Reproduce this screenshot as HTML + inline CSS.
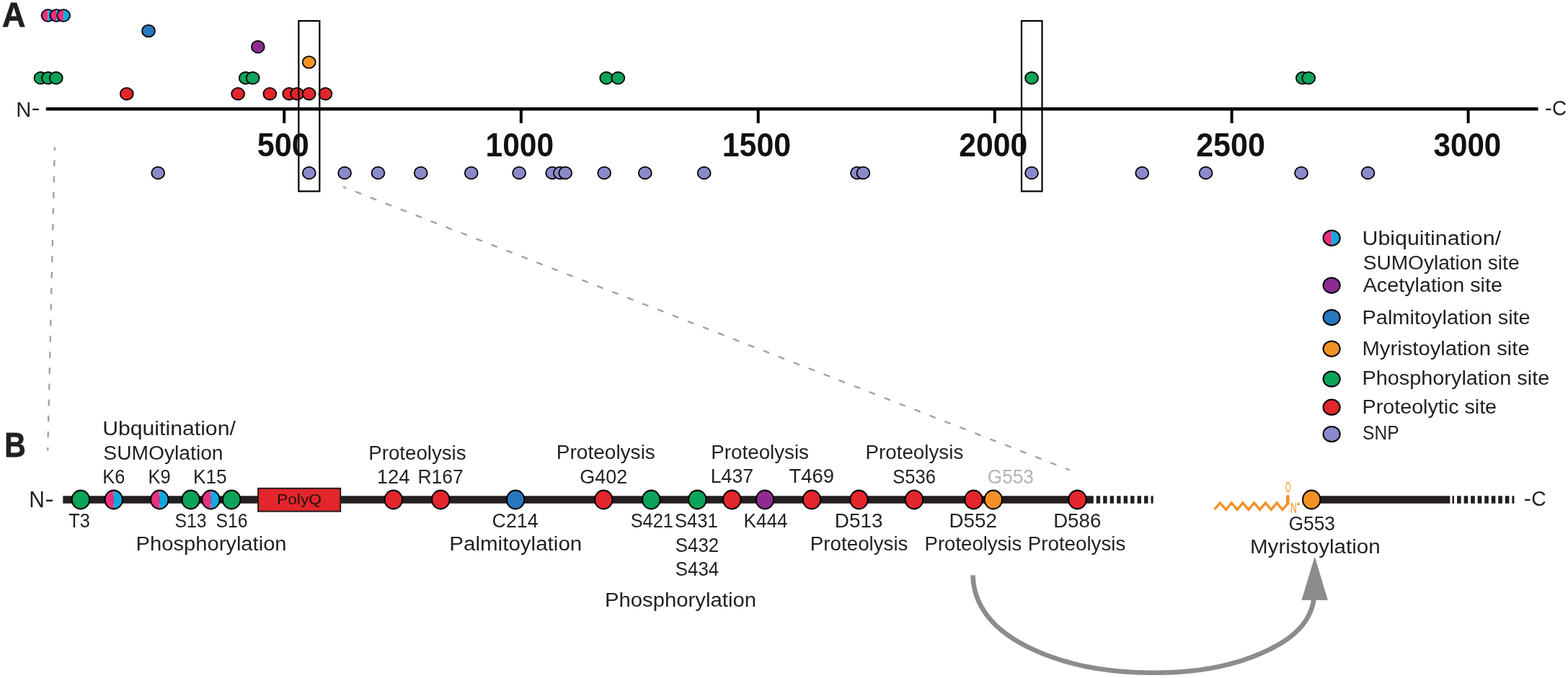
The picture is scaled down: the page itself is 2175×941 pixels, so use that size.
<!DOCTYPE html>
<html><head><meta charset="utf-8"><title>Huntingtin PTM map</title>
<style>html,body{margin:0;padding:0;background:#fff;overflow:hidden;}svg{display:block;}text{font-family:"Liberation Sans", sans-serif;}</style>
</head><body>
<svg width="2175" height="941" viewBox="0 0 2175 941">
<rect width="2175" height="941" fill="#fff"/>
<line x1="63.8" y1="151.2" x2="2133.6" y2="151.2" stroke="#000" stroke-width="4.4"/>
<line x1="394.2" y1="151" x2="394.2" y2="171" stroke="#000" stroke-width="4"/>
<line x1="722.8" y1="151" x2="722.8" y2="171" stroke="#000" stroke-width="4"/>
<line x1="1051.7" y1="151" x2="1051.7" y2="171" stroke="#000" stroke-width="4"/>
<line x1="1379.8" y1="151" x2="1379.8" y2="171" stroke="#000" stroke-width="4"/>
<line x1="1708.6" y1="151" x2="1708.6" y2="171" stroke="#000" stroke-width="4"/>
<line x1="2036.6" y1="151" x2="2036.6" y2="171" stroke="#000" stroke-width="4"/>
<path d="M66.5,13.2 A8.95,8.3 0 0 0 66.5,29.8 Z" fill="#e8307f"/><path d="M66.5,13.2 A8.95,8.3 0 0 1 66.5,29.8 Z" fill="#12a8de"/><ellipse cx="66.5" cy="21.5" rx="8.95" ry="8.3" fill="none" stroke="#000" stroke-width="1.8"/>
<path d="M78.4,13.2 A8.95,8.3 0 0 0 78.4,29.8 Z" fill="#e8307f"/><path d="M78.4,13.2 A8.95,8.3 0 0 1 78.4,29.8 Z" fill="#12a8de"/><ellipse cx="78.4" cy="21.5" rx="8.95" ry="8.3" fill="none" stroke="#000" stroke-width="1.8"/>
<path d="M88.1,13.2 A8.95,8.3 0 0 0 88.1,29.8 Z" fill="#e8307f"/><path d="M88.1,13.2 A8.95,8.3 0 0 1 88.1,29.8 Z" fill="#12a8de"/><ellipse cx="88.1" cy="21.5" rx="8.95" ry="8.3" fill="none" stroke="#000" stroke-width="1.8"/>
<ellipse cx="56.5" cy="108.3" rx="8.95" ry="8.3" fill="#0ca35a" stroke="#000" stroke-width="1.8"/>
<ellipse cx="66.9" cy="108.3" rx="8.95" ry="8.3" fill="#0ca35a" stroke="#000" stroke-width="1.8"/>
<ellipse cx="77.8" cy="108.3" rx="8.95" ry="8.3" fill="#0ca35a" stroke="#000" stroke-width="1.8"/>
<ellipse cx="340.8" cy="108.3" rx="8.95" ry="8.3" fill="#0ca35a" stroke="#000" stroke-width="1.8"/>
<ellipse cx="350.7" cy="108.3" rx="8.95" ry="8.3" fill="#0ca35a" stroke="#000" stroke-width="1.8"/>
<ellipse cx="841.2" cy="108.3" rx="8.95" ry="8.3" fill="#0ca35a" stroke="#000" stroke-width="1.8"/>
<ellipse cx="857.3" cy="108.3" rx="8.95" ry="8.3" fill="#0ca35a" stroke="#000" stroke-width="1.8"/>
<ellipse cx="1431" cy="108.3" rx="8.95" ry="8.3" fill="#0ca35a" stroke="#000" stroke-width="1.8"/>
<ellipse cx="1806.8" cy="108.3" rx="8.95" ry="8.3" fill="#0ca35a" stroke="#000" stroke-width="1.8"/>
<ellipse cx="1815.2" cy="108.3" rx="8.95" ry="8.3" fill="#0ca35a" stroke="#000" stroke-width="1.8"/>
<ellipse cx="175.8" cy="130.2" rx="8.95" ry="8.3" fill="#e3262b" stroke="#000" stroke-width="1.8"/>
<ellipse cx="330.1" cy="130.2" rx="8.95" ry="8.3" fill="#e3262b" stroke="#000" stroke-width="1.8"/>
<ellipse cx="374.3" cy="130.2" rx="8.95" ry="8.3" fill="#e3262b" stroke="#000" stroke-width="1.8"/>
<ellipse cx="401.2" cy="130.2" rx="8.95" ry="8.3" fill="#e3262b" stroke="#000" stroke-width="1.8"/>
<ellipse cx="412.2" cy="130.2" rx="8.95" ry="8.3" fill="#e3262b" stroke="#000" stroke-width="1.8"/>
<ellipse cx="428.7" cy="130.2" rx="8.95" ry="8.3" fill="#e3262b" stroke="#000" stroke-width="1.8"/>
<ellipse cx="451.4" cy="130.2" rx="8.95" ry="8.3" fill="#e3262b" stroke="#000" stroke-width="1.8"/>
<ellipse cx="206.0" cy="42.9" rx="8.95" ry="8.3" fill="#2878c0" stroke="#000" stroke-width="1.8"/>
<ellipse cx="357.8" cy="65.0" rx="8.95" ry="8.3" fill="#8e2b92" stroke="#000" stroke-width="1.8"/>
<ellipse cx="428.7" cy="86.4" rx="8.95" ry="8.3" fill="#f29226" stroke="#000" stroke-width="1.8"/>
<ellipse cx="219.2" cy="240.0" rx="8.95" ry="8.3" fill="#8a8acb" stroke="#000" stroke-width="1.8"/>
<ellipse cx="428.8" cy="240.0" rx="8.95" ry="8.3" fill="#8a8acb" stroke="#000" stroke-width="1.8"/>
<ellipse cx="478.1" cy="240.0" rx="8.95" ry="8.3" fill="#8a8acb" stroke="#000" stroke-width="1.8"/>
<ellipse cx="524.4" cy="240.0" rx="8.95" ry="8.3" fill="#8a8acb" stroke="#000" stroke-width="1.8"/>
<ellipse cx="583.7" cy="240.0" rx="8.95" ry="8.3" fill="#8a8acb" stroke="#000" stroke-width="1.8"/>
<ellipse cx="653.7" cy="240.0" rx="8.95" ry="8.3" fill="#8a8acb" stroke="#000" stroke-width="1.8"/>
<ellipse cx="720.1" cy="240.0" rx="8.95" ry="8.3" fill="#8a8acb" stroke="#000" stroke-width="1.8"/>
<ellipse cx="766.2" cy="240.0" rx="8.95" ry="8.3" fill="#8a8acb" stroke="#000" stroke-width="1.8"/>
<ellipse cx="776.8" cy="240.0" rx="8.95" ry="8.3" fill="#8a8acb" stroke="#000" stroke-width="1.8"/>
<ellipse cx="784.2" cy="240.0" rx="8.95" ry="8.3" fill="#8a8acb" stroke="#000" stroke-width="1.8"/>
<ellipse cx="838.2" cy="240.0" rx="8.95" ry="8.3" fill="#8a8acb" stroke="#000" stroke-width="1.8"/>
<ellipse cx="894.8" cy="240.0" rx="8.95" ry="8.3" fill="#8a8acb" stroke="#000" stroke-width="1.8"/>
<ellipse cx="976.7" cy="240.0" rx="8.95" ry="8.3" fill="#8a8acb" stroke="#000" stroke-width="1.8"/>
<ellipse cx="1189" cy="240.0" rx="8.95" ry="8.3" fill="#8a8acb" stroke="#000" stroke-width="1.8"/>
<ellipse cx="1197.4" cy="240.0" rx="8.95" ry="8.3" fill="#8a8acb" stroke="#000" stroke-width="1.8"/>
<ellipse cx="1431" cy="240.0" rx="8.95" ry="8.3" fill="#8a8acb" stroke="#000" stroke-width="1.8"/>
<ellipse cx="1584.2" cy="240.0" rx="8.95" ry="8.3" fill="#8a8acb" stroke="#000" stroke-width="1.8"/>
<ellipse cx="1672.6" cy="240.0" rx="8.95" ry="8.3" fill="#8a8acb" stroke="#000" stroke-width="1.8"/>
<ellipse cx="1805" cy="240.0" rx="8.95" ry="8.3" fill="#8a8acb" stroke="#000" stroke-width="1.8"/>
<ellipse cx="1897.5" cy="240.0" rx="8.95" ry="8.3" fill="#8a8acb" stroke="#000" stroke-width="1.8"/>
<rect x="414.3" y="29" width="29.0" height="236.5" fill="none" stroke="#000" stroke-width="2.2"/>
<rect x="1417.0" y="29" width="28.5" height="236.5" fill="none" stroke="#000" stroke-width="2.2"/>
<line x1="75.9" y1="203.9" x2="66.2" y2="625.3" stroke="#a3a3a3" stroke-width="2.4" stroke-dasharray="8.6 13.56" stroke-dashoffset="3.8"/>
<line x1="475.7" y1="259.3" x2="1484" y2="652.5" stroke="#a3a3a3" stroke-width="2.4" stroke-dasharray="8.9 13.6" stroke-dashoffset="4.1"/>
<path d="M1847.1,319.7 A11.6,10.6 0 0 0 1847.1,340.90000000000003 Z" fill="#e8307f"/><path d="M1847.1,319.7 A11.6,10.6 0 0 1 1847.1,340.90000000000003 Z" fill="#12a8de"/><ellipse cx="1847.1" cy="330.3" rx="11.6" ry="10.6" fill="none" stroke="#000" stroke-width="2"/>
<ellipse cx="1847.1" cy="396.1" rx="11.6" ry="10.6" fill="#8e2b92" stroke="#000" stroke-width="2"/>
<ellipse cx="1847.1" cy="440.6" rx="11.6" ry="10.6" fill="#2878c0" stroke="#000" stroke-width="2"/>
<ellipse cx="1847.1" cy="484.1" rx="11.6" ry="10.6" fill="#f29226" stroke="#000" stroke-width="2"/>
<ellipse cx="1847.1" cy="526.0" rx="11.6" ry="10.6" fill="#0ca35a" stroke="#000" stroke-width="2"/>
<ellipse cx="1847.1" cy="565.2" rx="11.6" ry="10.6" fill="#e3262b" stroke="#000" stroke-width="2"/>
<ellipse cx="1847.1" cy="602.5" rx="11.6" ry="10.6" fill="#8a8acb" stroke="#000" stroke-width="2"/>
<rect x="87.3" y="688.25" width="1429.5" height="10.5" fill="#231f20"/>
<rect x="1520.70" y="688.25" width="5.4" height="10.5" fill="#231f20"/>
<rect x="1530.18" y="688.25" width="5.4" height="10.5" fill="#231f20"/>
<rect x="1539.66" y="688.25" width="5.4" height="10.5" fill="#231f20"/>
<rect x="1549.14" y="688.25" width="5.4" height="10.5" fill="#231f20"/>
<rect x="1558.62" y="688.25" width="5.4" height="10.5" fill="#231f20"/>
<rect x="1568.10" y="688.25" width="5.4" height="10.5" fill="#231f20"/>
<rect x="1577.58" y="688.25" width="5.4" height="10.5" fill="#231f20"/>
<rect x="1587.06" y="688.25" width="5.4" height="10.5" fill="#231f20"/>
<rect x="1596.54" y="688.25" width="3.1" height="10.5" fill="#231f20"/>
<rect x="358.1" y="677.8" width="114.1" height="31.9" fill="#e3262b" stroke="#231f20" stroke-width="2"/>
<ellipse cx="111.9" cy="693.5" rx="12.2" ry="12.9" fill="#0ca35a" stroke="#000" stroke-width="2.1"/>
<path d="M157.7,680.6 A12.2,12.9 0 0 0 157.7,706.4 Z" fill="#e8307f"/><path d="M157.7,680.6 A12.2,12.9 0 0 1 157.7,706.4 Z" fill="#12a8de"/><ellipse cx="157.7" cy="693.5" rx="12.2" ry="12.9" fill="none" stroke="#000" stroke-width="2.1"/>
<path d="M221.3,680.6 A12.2,12.9 0 0 0 221.3,706.4 Z" fill="#e8307f"/><path d="M221.3,680.6 A12.2,12.9 0 0 1 221.3,706.4 Z" fill="#12a8de"/><ellipse cx="221.3" cy="693.5" rx="12.2" ry="12.9" fill="none" stroke="#000" stroke-width="2.1"/>
<ellipse cx="264.6" cy="693.5" rx="12.2" ry="12.9" fill="#0ca35a" stroke="#000" stroke-width="2.1"/>
<path d="M292.5,680.6 A12.2,12.9 0 0 0 292.5,706.4 Z" fill="#e8307f"/><path d="M292.5,680.6 A12.2,12.9 0 0 1 292.5,706.4 Z" fill="#12a8de"/><ellipse cx="292.5" cy="693.5" rx="12.2" ry="12.9" fill="none" stroke="#000" stroke-width="2.1"/>
<ellipse cx="321.2" cy="693.5" rx="12.2" ry="12.9" fill="#0ca35a" stroke="#000" stroke-width="2.1"/>
<ellipse cx="545.7" cy="693.5" rx="12.2" ry="12.9" fill="#e3262b" stroke="#000" stroke-width="2.1"/>
<ellipse cx="611.3" cy="693.5" rx="12.2" ry="12.9" fill="#e3262b" stroke="#000" stroke-width="2.1"/>
<ellipse cx="715.1" cy="693.5" rx="12.2" ry="12.9" fill="#2878c0" stroke="#000" stroke-width="2.1"/>
<ellipse cx="837.3" cy="693.5" rx="12.2" ry="12.9" fill="#e3262b" stroke="#000" stroke-width="2.1"/>
<ellipse cx="903.3" cy="693.5" rx="12.2" ry="12.9" fill="#0ca35a" stroke="#000" stroke-width="2.1"/>
<ellipse cx="967.3" cy="693.5" rx="12.2" ry="12.9" fill="#0ca35a" stroke="#000" stroke-width="2.1"/>
<ellipse cx="1015.3" cy="693.5" rx="12.2" ry="12.9" fill="#e3262b" stroke="#000" stroke-width="2.1"/>
<ellipse cx="1061.0" cy="693.5" rx="12.2" ry="12.9" fill="#8e2b92" stroke="#000" stroke-width="2.1"/>
<ellipse cx="1126.0" cy="693.5" rx="12.2" ry="12.9" fill="#e3262b" stroke="#000" stroke-width="2.1"/>
<ellipse cx="1191.5" cy="693.5" rx="12.2" ry="12.9" fill="#e3262b" stroke="#000" stroke-width="2.1"/>
<ellipse cx="1268.0" cy="693.5" rx="12.2" ry="12.9" fill="#e3262b" stroke="#000" stroke-width="2.1"/>
<ellipse cx="1350.5" cy="693.5" rx="12.2" ry="12.9" fill="#e3262b" stroke="#000" stroke-width="2.1"/>
<ellipse cx="1377.8" cy="693.5" rx="12.2" ry="12.9" fill="#f29226" stroke="#000" stroke-width="2.1"/>
<ellipse cx="1494.5" cy="693.5" rx="12.2" ry="12.9" fill="#e3262b" stroke="#000" stroke-width="2.1"/>
<rect x="1819" y="688.25" width="192.4000000000001" height="10.5" fill="#231f20"/>
<rect x="2014.4" y="688.25" width="2.6" height="10.5" fill="#231f20"/>
<rect x="2021.10" y="688.25" width="5.6" height="10.5" fill="#231f20"/>
<rect x="2030.63" y="688.25" width="5.6" height="10.5" fill="#231f20"/>
<rect x="2040.16" y="688.25" width="5.6" height="10.5" fill="#231f20"/>
<rect x="2049.69" y="688.25" width="5.6" height="10.5" fill="#231f20"/>
<rect x="2059.22" y="688.25" width="5.6" height="10.5" fill="#231f20"/>
<rect x="2068.75" y="688.25" width="5.6" height="10.5" fill="#231f20"/>
<rect x="2078.28" y="688.25" width="5.6" height="10.5" fill="#231f20"/>
<rect x="2087.81" y="688.25" width="5.6" height="10.5" fill="#231f20"/>
<rect x="2097.4" y="688.25" width="3.0" height="10.5" fill="#231f20"/>
<ellipse cx="1819.2" cy="693.5" rx="12.2" ry="12.9" fill="#f29226" stroke="#000" stroke-width="2.1"/>
<polyline points="1684.5,707.2 1692.5,698.0 1700.6,707.3 1708.2,698.0 1716.2,707.3 1723.9,698.0 1731.9,707.3 1739.7,698.0 1747.5,707.3 1755.4,698.0 1763.2,707.3 1771.1,698.0 1778.8,707.3 1786.3,699.0" fill="none" stroke="#f29226" stroke-width="3.4" stroke-linejoin="miter"/>
<line x1="1786.3" y1="700.5" x2="1786.3" y2="687.2" stroke="#f29226" stroke-width="4.6"/>
<path d="M1800.8,697.2 L1803,699.6 L1800.8,702 L1798.6,699.6 Z" fill="#f29226"/>
<path d="M1349.5,798.4 L1349.8,803.6 L1350.3,808.7 L1351.1,813.6 L1352.1,818.5 L1353.3,823.1 L1354.8,827.7 L1356.5,832.1 L1358.4,836.4 L1360.5,840.6 L1362.8,844.6 L1365.3,848.6 L1367.9,852.4 L1370.7,856.1 L1373.7,859.7 L1376.8,863.1 L1380.1,866.5 L1383.5,869.8 L1387.1,872.9 L1390.7,875.9 L1394.5,878.9 L1398.4,881.7 L1402.4,884.5 L1406.5,887.1 L1410.6,889.7 L1414.8,892.1 L1419.1,894.5 L1423.5,896.8 L1427.9,899.0 L1432.3,901.1 L1436.8,903.1 L1441.3,905.1 L1445.9,907.0 L1450.4,908.8 L1455.0,910.5 L1459.6,912.2 L1464.1,913.7 L1468.7,915.2 L1473.3,916.7 L1478.0,918.0 L1482.6,919.3 L1487.2,920.6 L1491.9,921.8 L1496.6,922.9 L1501.2,923.9 L1505.9,924.9 L1510.6,925.8 L1515.3,926.7 L1520.0,927.5 L1524.8,928.3 L1529.5,929.0 L1534.2,929.6 L1539.0,930.2 L1543.8,930.7 L1548.5,931.2 L1553.3,931.7 L1558.1,932.1 L1562.9,932.4 L1567.7,932.7 L1572.5,933.0 L1577.3,933.2 L1582.1,933.4 L1587.0,933.5 L1591.8,933.6 L1596.6,933.7 L1601.5,933.7 L1606.3,933.7 L1611.2,933.6 L1616.0,933.5 L1620.9,933.4 L1625.7,933.2 L1630.6,932.9 L1635.4,932.6 L1640.3,932.2 L1645.1,931.8 L1649.9,931.4 L1654.7,930.9 L1659.6,930.3 L1664.4,929.7 L1669.2,929.0 L1673.9,928.3 L1678.7,927.4 L1683.5,926.6 L1688.2,925.7 L1692.9,924.7 L1697.7,923.6 L1702.3,922.5 L1707.0,921.3 L1711.7,920.0 L1716.3,918.7 L1720.9,917.3 L1725.5,915.8 L1730.1,914.2 L1734.6,912.6 L1739.1,910.9 L1743.6,909.1 L1748.1,907.2 L1752.5,905.3 L1756.9,903.3 L1761.3,901.2 L1765.6,899.0 L1769.9,896.7 L1774.1,894.3 L1778.3,891.8 L1782.3,889.2 L1786.3,886.5 L1790.1,883.6 L1793.8,880.6 L1797.3,877.5 L1800.7,874.2 L1803.9,870.8 L1806.9,867.3 L1809.7,863.5 L1812.3,859.6 L1814.6,855.5 L1816.7,851.2 L1818.5,846.8 L1820.1,842.1 L1821.4,837.3 L1822.3,832.2" fill="none" stroke="#8c8c8e" stroke-width="6.6" stroke-linejoin="round"/>
<path d="M1823.7,772.5 L1841.9,832.9 L1805.4,832.9 Z" fill="#8c8c8e"/>
<text x="3.08" y="37.10" font-size="48.4" font-weight="bold" fill="#231f20" textLength="32.33" lengthAdjust="spacingAndGlyphs" stroke="#231f20" stroke-width="0.8">A</text>
<text x="22.15" y="161.90" font-size="29.9" fill="#231f20" textLength="21.09" lengthAdjust="spacingAndGlyphs">N</text>
<text x="43.50" y="160.20" font-size="29.9" fill="#231f20" textLength="11.96" lengthAdjust="spacingAndGlyphs">-</text>
<text x="2143.01" y="160.00" font-size="29.9" fill="#231f20" textLength="9.84" lengthAdjust="spacingAndGlyphs">-</text>
<text x="2153.07" y="160.30" font-size="30.4" fill="#231f20" textLength="20.12" lengthAdjust="spacingAndGlyphs">C</text>
<text x="356.73" y="216.70" font-size="46.3" font-weight="bold" fill="#111" textLength="72.06" lengthAdjust="spacingAndGlyphs">500</text>
<text x="673.55" y="216.70" font-size="46.3" font-weight="bold" fill="#111" textLength="94.49" lengthAdjust="spacingAndGlyphs">1000</text>
<text x="1001.72" y="216.70" font-size="46.3" font-weight="bold" fill="#111" textLength="95.33" lengthAdjust="spacingAndGlyphs">1500</text>
<text x="1330.15" y="216.70" font-size="46.3" font-weight="bold" fill="#111" textLength="95.20" lengthAdjust="spacingAndGlyphs">2000</text>
<text x="1659.14" y="216.70" font-size="46.3" font-weight="bold" fill="#111" textLength="95.72" lengthAdjust="spacingAndGlyphs">2500</text>
<text x="1988.49" y="216.70" font-size="46.3" font-weight="bold" fill="#111" textLength="93.83" lengthAdjust="spacingAndGlyphs">3000</text>
<text x="1889.45" y="339.60" font-size="27" fill="#231f20" textLength="192.69" lengthAdjust="spacingAndGlyphs">Ubiquitination/</text>
<text x="1890.66" y="373.80" font-size="27" fill="#231f20" textLength="216.88" lengthAdjust="spacingAndGlyphs">SUMOylation site</text>
<text x="1890.70" y="405.30" font-size="27" fill="#231f20" textLength="193.20" lengthAdjust="spacingAndGlyphs">Acetylation site</text>
<text x="1889.56" y="449.50" font-size="27" fill="#231f20" textLength="233.17" lengthAdjust="spacingAndGlyphs">Palmitoylation site</text>
<text x="1889.54" y="493.30" font-size="27" fill="#231f20" textLength="232.17" lengthAdjust="spacingAndGlyphs">Myristoylation site</text>
<text x="1889.56" y="533.60" font-size="27" fill="#231f20" textLength="259.67" lengthAdjust="spacingAndGlyphs">Phosphorylation site</text>
<text x="1889.58" y="574.00" font-size="27" fill="#231f20" textLength="186.50" lengthAdjust="spacingAndGlyphs">Proteolytic site</text>
<text x="1890.09" y="610.10" font-size="27" fill="#231f20" textLength="50.56" lengthAdjust="spacingAndGlyphs">SNP</text>
<text x="6.36" y="633.90" font-size="48.1" font-weight="bold" fill="#231f20" textLength="29.46" lengthAdjust="spacingAndGlyphs" stroke="#231f20" stroke-width="0.8">B</text>
<text x="40.15" y="704.30" font-size="30.5" fill="#231f20" textLength="21.64" lengthAdjust="spacingAndGlyphs">N</text>
<text x="62.27" y="702.50" font-size="30.5" fill="#231f20" textLength="12.46" lengthAdjust="spacingAndGlyphs">-</text>
<text x="142.16" y="603.80" font-size="27" fill="#231f20" textLength="184.68" lengthAdjust="spacingAndGlyphs">Ubquitination/</text>
<text x="143.36" y="637.60" font-size="27" fill="#231f20" textLength="166.18" lengthAdjust="spacingAndGlyphs">SUMOylation</text>
<text x="142.22" y="670.70" font-size="27" fill="#231f20" textLength="31.05" lengthAdjust="spacingAndGlyphs">K6</text>
<text x="205.61" y="670.70" font-size="27" fill="#231f20" textLength="31.16" lengthAdjust="spacingAndGlyphs">K9</text>
<text x="267.96" y="670.70" font-size="27" fill="#231f20" textLength="46.66" lengthAdjust="spacingAndGlyphs">K15</text>
<text x="95.16" y="732.00" font-size="27" fill="#231f20" textLength="29.56" lengthAdjust="spacingAndGlyphs">T3</text>
<text x="242.38" y="732.00" font-size="27" fill="#231f20" textLength="44.08" lengthAdjust="spacingAndGlyphs">S13</text>
<text x="299.38" y="732.00" font-size="27" fill="#231f20" textLength="44.08" lengthAdjust="spacingAndGlyphs">S16</text>
<text x="188.64" y="763.80" font-size="27" fill="#231f20" textLength="208.93" lengthAdjust="spacingAndGlyphs">Phosphorylation</text>
<text x="383.98" y="700.30" font-size="20.5" fill="#1f1010" textLength="62.04" lengthAdjust="spacingAndGlyphs">PolyQ</text>
<text x="511.35" y="637.50" font-size="27" fill="#231f20" textLength="135.12" lengthAdjust="spacingAndGlyphs">Proteolysis</text>
<text x="522.67" y="670.80" font-size="27" fill="#231f20" textLength="45.81" lengthAdjust="spacingAndGlyphs">124</text>
<text x="579.44" y="670.80" font-size="27" fill="#231f20" textLength="63.17" lengthAdjust="spacingAndGlyphs">R167</text>
<text x="682.61" y="732.10" font-size="27" fill="#231f20" textLength="64.03" lengthAdjust="spacingAndGlyphs">C214</text>
<text x="623.31" y="764.40" font-size="27" fill="#231f20" textLength="183.96" lengthAdjust="spacingAndGlyphs">Palmitoylation</text>
<text x="771.82" y="637.40" font-size="27" fill="#231f20" textLength="137.06" lengthAdjust="spacingAndGlyphs">Proteolysis</text>
<text x="804.20" y="670.50" font-size="27" fill="#231f20" textLength="65.96" lengthAdjust="spacingAndGlyphs">G402</text>
<text x="874.66" y="732.00" font-size="27" fill="#231f20" textLength="59.34" lengthAdjust="spacingAndGlyphs">S421</text>
<text x="936.05" y="732.00" font-size="27" fill="#231f20" textLength="59.75" lengthAdjust="spacingAndGlyphs">S431</text>
<text x="936.84" y="765.80" font-size="27" fill="#231f20" textLength="60.37" lengthAdjust="spacingAndGlyphs">S432</text>
<text x="936.84" y="799.00" font-size="27" fill="#231f20" textLength="60.37" lengthAdjust="spacingAndGlyphs">S434</text>
<text x="838.93" y="841.80" font-size="27" fill="#231f20" textLength="210.15" lengthAdjust="spacingAndGlyphs">Phosphorylation</text>
<text x="986.35" y="637.40" font-size="27" fill="#231f20" textLength="135.63" lengthAdjust="spacingAndGlyphs">Proteolysis</text>
<text x="985.83" y="670.40" font-size="27" fill="#231f20" textLength="59.13" lengthAdjust="spacingAndGlyphs">L437</text>
<text x="1094.48" y="670.40" font-size="27" fill="#231f20" textLength="62.59" lengthAdjust="spacingAndGlyphs">T469</text>
<text x="1031.46" y="732.20" font-size="27" fill="#231f20" textLength="61.07" lengthAdjust="spacingAndGlyphs">K444</text>
<text x="1157.83" y="732.20" font-size="27" fill="#231f20" textLength="66.66" lengthAdjust="spacingAndGlyphs">D513</text>
<text x="1316.44" y="732.20" font-size="27" fill="#231f20" textLength="66.45" lengthAdjust="spacingAndGlyphs">D552</text>
<text x="1461.15" y="732.20" font-size="27" fill="#231f20" textLength="66.13" lengthAdjust="spacingAndGlyphs">D586</text>
<text x="1200.54" y="637.40" font-size="27" fill="#231f20" textLength="135.73" lengthAdjust="spacingAndGlyphs">Proteolysis</text>
<text x="1238.15" y="670.50" font-size="27" fill="#231f20" textLength="59.75" lengthAdjust="spacingAndGlyphs">S536</text>
<text x="1369.83" y="670.50" font-size="27" fill="#b3b3b3" textLength="64.10" lengthAdjust="spacingAndGlyphs">G553</text>
<text x="1123.85" y="764.00" font-size="27" fill="#231f20" textLength="135.63" lengthAdjust="spacingAndGlyphs">Proteolysis</text>
<text x="1282.56" y="764.00" font-size="27" fill="#231f20" textLength="134.71" lengthAdjust="spacingAndGlyphs">Proteolysis</text>
<text x="1425.75" y="764.00" font-size="27" fill="#231f20" textLength="135.63" lengthAdjust="spacingAndGlyphs">Proteolysis</text>
<text x="2113.80" y="702.20" font-size="30.4" fill="#231f20" textLength="10.12" lengthAdjust="spacingAndGlyphs">-</text>
<text x="2124.13" y="702.40" font-size="30.4" fill="#231f20" textLength="20.49" lengthAdjust="spacingAndGlyphs">C</text>
<text x="1787.53" y="735.50" font-size="27" fill="#231f20" textLength="64.41" lengthAdjust="spacingAndGlyphs">G553</text>
<text x="1734.01" y="767.60" font-size="27" fill="#231f20" textLength="180.63" lengthAdjust="spacingAndGlyphs">Myristoylation</text>
<text x="1783.01" y="683.40" font-size="19.3" fill="#f29226" textLength="7.38" lengthAdjust="spacingAndGlyphs">O</text>
<text x="1789.94" y="712.30" font-size="19.3" fill="#f29226" textLength="8.78" lengthAdjust="spacingAndGlyphs">N</text>
</svg>
</body></html>
